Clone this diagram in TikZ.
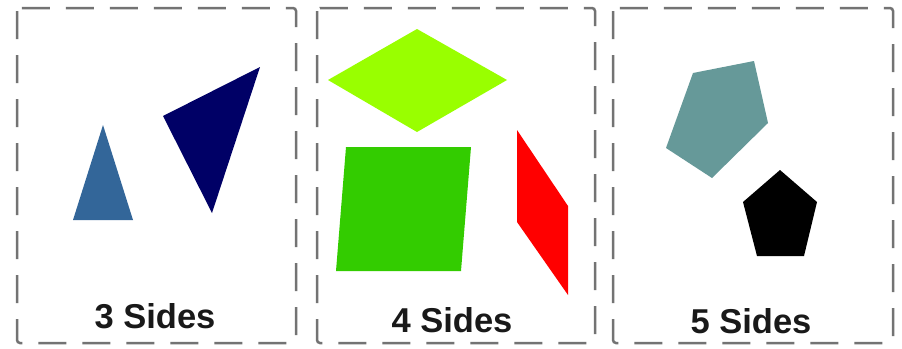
\documentclass[tikz,border=0pt]{standalone}
\usepackage{fontspec}
\setmainfont{Liberation Sans}
\begin{document}
\begin{tikzpicture}[x=1pt,y=-1pt,
  panel/.style={draw=black!55, line width=2.5pt, dash pattern=on 28pt off 16pt, rounded corners=3pt},
  caption/.style={font=\bfseries\fontsize{34.5}{38}\selectfont, text=black!90, inner sep=0pt, anchor=base},
  shp/.style={draw=none}]
\useasboundingbox[fill=white] (0,0) rectangle (902,348);
% panels
\draw[panel] (17,8) rectangle (296,343);
\draw[panel] (317,8) rectangle (595,343);
\draw[panel] (613,8) rectangle (893,343);
% 3 sides
\fill[color={rgb,255:red,51;green,102;blue,153}] (103,125) -- (133,220) -- (73,220) -- cycle;
\fill[color={rgb,255:red,0;green,0;blue,102}] (163,116) -- (260,67) -- (212,213) -- cycle;
\node[caption] (t3) at (155,328) {3 Sides};
% 4 sides
\fill[color={rgb,255:red,153;green,255;blue,0}] (328,80) -- (417,29) -- (507,80) -- (417,132) -- cycle;
\fill[color={rgb,255:red,51;green,204;blue,0}] (346,147) -- (471,147) -- (461,271) -- (336,271) -- cycle;
\fill[color={rgb,255:red,255;green,0;blue,0}] (517,130) -- (568,206) -- (568,295) -- (517,222) -- cycle;
\node[caption] (t4) at (452,332) {4 Sides};
% 5 sides
\fill[color={rgb,255:red,102;green,153;blue,153}] (693,73) -- (754,61) -- (768,123) -- (712,178) -- (666,148) -- cycle;
\fill[black] (780,170) -- (817,202) -- (804,256) -- (757,256) -- (743,202) -- cycle;
\node[caption] (t5) at (751,333) {5 Sides};
\end{tikzpicture}
\end{document}
